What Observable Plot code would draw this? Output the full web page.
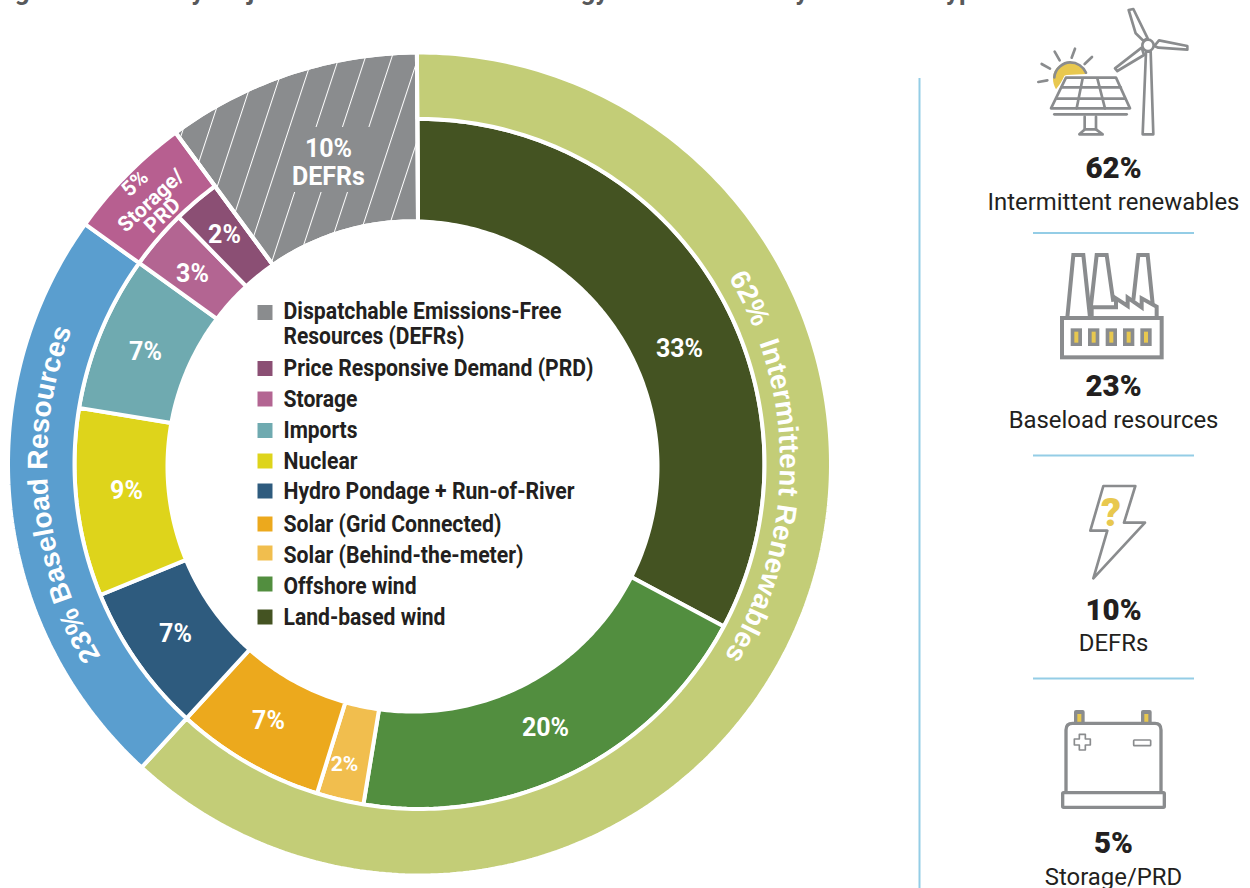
<!DOCTYPE html>
<html><head><meta charset="utf-8">
<script src="https://cdn.jsdelivr.net/npm/d3@7"></script>
<script src="https://cdn.jsdelivr.net/npm/@observablehq/plot@0.6"></script>
<style>html,body{margin:0;padding:0;background:#fff}svg{display:block}</style>
</head><body><div id="chart"></div>
<script>
// ---------- data ----------
const innerNames = ["Land-based wind","Offshore wind","Solar (Behind-the-meter)","Solar (Grid Connected)","Hydro Pondage + Run-of-River","Nuclear","Imports","Storage","Price Responsive Demand (PRD)","Dispatchable Emissions-Free Resources (DEFRs)"];
const innerValues = [32.8,19.8,2.2,7,7,8.8,7.3,2.8,2.2,10.1];
const innerLabels = ["33%","20%","2%","7%","7%","9%","7%","3%","2%","10%"];
const outerNames = ["Intermittent Renewables","Baseload Resources","Storage/PRD"];
const outerValues = [61.8,23.1,5];
const legendLines = [["Dispatchable Emissions-Free",0],["Resources (DEFRs)",0],["Price Responsive Demand (PRD)",1],["Storage",2],["Imports",3],["Nuclear",4],["Hydro Pondage + Run-of-River",5],["Solar (Grid Connected)",6],["Solar (Behind-the-meter)",7],["Offshore wind",8],["Land-based wind",9]];
const panelShares = ["62%","23%","10%","5%"];
const panelNames = ["Intermittent renewables","Baseload resources","DEFRs","Storage/PRD"];
const headline = "Figure 1: Share by Major Sources of All Clean Energy Resource Mix by Resource Type";

// ---------- colours ----------
const innerColors = ["#445322","#528E3F","#F1BE4E","#ECA91D","#2E5B7E","#DED41B","#6FAAB0","#B36592","#8B4F74","#8A8C8E"];
const outerColors = ["#C3CD77","#5A9ECF","#B75F90"];
const gray = "#8A8C8E", yellow = "#E8C84F", rule = "#94CDE6", ink = "#231F20";

// ---------- layout ----------
const W = 1250, H = 888, cx = 419, cy = 463.5;
const rHole = 245, rMid = 345, rOut = 411.5;
const holeDx = -7, holeDy = 2.5; // the hole sits slightly off the rings' centre
const seam = -0.1;               // the 12 o'clock seam sits just left of centre
const angle = p => p / 100 * 2 * Math.PI;
const px = (p, r) => cx + r * Math.sin(angle(p));
const py = (p, r) => cy - r * Math.cos(angle(p));
const holeR = p => rHole + holeDx * Math.sin(angle(p)) - holeDy * Math.cos(angle(p));
function wedge(name, a, b, r0, r1) {
  const n = Math.max(2, Math.ceil((b - a) * 4));
  const out = d3.range(n + 1).map(i => a + (b - a) * i / n);
  const inner = p => r0 === "hole" ? holeR(p) : r0;
  return [...out.map(p => ({name, x: px(p, r1), y: py(p, r1)})),
          ...out.slice().reverse().map(p => ({name, x: px(p, inner(p)), y: py(p, inner(p))}))];
}
const inEdges = d3.cumsum(innerValues);
const outEdges = d3.cumsum(outerValues);
const wedges = [];
innerNames.forEach((nm, i) => {
  const a = i ? inEdges[i-1] : seam, b = i === 9 ? 100 + seam : inEdges[i];
  wedges.push(...wedge(nm, a, b, "hole", i === 9 ? rOut : rMid));
});
outerNames.forEach((nm, i) => {
  const a = i ? outEdges[i-1] : seam;
  wedges.push(...wedge(nm, a, outEdges[i], rMid, rOut));
});
const hatchShape = wedge("hatch", inEdges[8], 100 + seam, "hole", rOut);

const labelAt = [[679,348],[545,727],[344,764],[268,720],[175,633],[126,490],[145,351],[192,273],[224,234],[328,148]];
const labelSize = [25,25,21,25,25,25,25,25,25,25];
const labelRows = innerLabels.map((t,i)=>({t, x: labelAt[i][0], y: labelAt[i][1], s: labelSize[i]}));
const legendY = [311,336,368,399,430,461,491,524,555,585.5,617];
const squareY = [312,null,368,398.5,430,460.5,490.5,523.5,552.5,583.5,616.5];
const legendWidth = [278,181,310,74,74,74,291,218,240,133,162];
const legendOrder = [9,8,7,6,5,4,3,2,1,0];
const legendRows = legendLines.map(([t,k],i)=>({t, name: innerNames[legendOrder[k]], y: legendY[i], sy: squareY[i]}));
const panelRows = [[168,201.5],[386.5,420],[610,643],[843,876.5]];
const dividerY = [232.5,455,678];

// ---------- custom helper marks ----------
function hatchDefs() {
  const g = d3.create("svg:g");
  const p = g.append("defs").append("pattern").attr("id","hatch").attr("patternUnits","userSpaceOnUse")
    .attr("width",25.1).attr("height",25.1).attr("patternTransform","translate(320,191.7) rotate(18.2)");
  p.append("rect").attr("width",1).attr("height",25.1).attr("fill","#fff");
  return g.node();
}
function curved(id, text, a0, a1, r, size, spacing) {
  return (index, {x, y}) => {
    const g = d3.create("svg:g");
    const d = `M${x(px(a0,r))},${y(py(a0,r))}A${r},${r} 0 0 1 ${x(px(a1,r))},${y(py(a1,r))}`;
    g.append("defs").append("path").attr("id",id).attr("d",d);
    g.append("text").attr("text-anchor","start").attr("font-family","'Liberation Sans',Arial,sans-serif").attr("font-weight",700)
      .attr("font-size",size).attr("fill","#fff").attr("letter-spacing",spacing).style("white-space","pre")
      .append("textPath").attr("href","#"+id).text(text);
    return g.node();
  };
}
function icons() {
  const root = d3.create("svg:g").attr("fill","none").attr("stroke",gray).attr("stroke-linejoin","round").attr("stroke-linecap","round");
  const crop = (yo) => root.append("g").attr("transform",`translate(960,${yo}) scale(${1/3})`);
  const path = (g,d,w,extra={}) => { const e = g.append("path").attr("d",d).attr("stroke-width",w); for (const k in extra) e.attr(k,extra[k]); return e; };
  // solar + turbine
  let g = crop(0);
  path(g,"M288,268C265,225 290,189 327,187C350,185 372,200 380,222L320,225Z",0,{fill:yellow,stroke:"none"});
  path(g,"M283,232C285,205 310,187 330,187C352,187 370,200 378,218",8);
  ["M235,246L262,241","M245,192L270,206","M284,155L299,181","M345,146L335,173","M396,171L374,192"].forEach(d=>path(g,d,8));
  path(g,"M318,233L468,233L510,325L273,325Z",14,{stroke:"#fff"});
  path(g,"M318,233L468,233L510,325L273,325Z",8,{fill:"#fff"});
  ["M305,262L482,262","M290,296L495,296","M368,235L350,325","M412,235L435,325","M283,343L500,343"].forEach(d=>path(g,d,8));
  path(g,"M374,350L374,388M408,350L408,388",8);
  path(g,"M358,403L375,388L408,388L428,403Z",8);
  path(g,"M558,155L572,155L580,403L548,403Z",8);
  path(g,"M506,30L520,27L563,115L550,122L527,100Z",8,{fill:"#fff"});
  path(g,"M597,121L682,138L682,149L595,143L583,138Z",8,{fill:"#fff"});
  path(g,"M545,143L465,205L472,213L552,165Z",8,{fill:"#fff"});
  g.append("circle").attr("cx",564).attr("cy",136).attr("r",17).attr("fill","#fff").attr("stroke-width",8);
  // factory
  g = crop(230);
  g.attr("stroke-linejoin","miter").attr("stroke-linecap","butt");
  path(g,"M322,262L340,75L370,75L390,262",12);
  path(g,"M392,235L410,75L440,75L460,215",12);
  path(g,"M520,210L535,75L563,75L578,222",12);
  path(g,"M395,262L395,232L468,232L468,205L503,228L503,203L545,232L545,205L590,230L590,262",12);
  g.append("rect").attr("x",306).attr("y",264).attr("width",299).attr("height",118).attr("fill","#fff").attr("stroke-width",12);
  [332,384,437,489,541].forEach(x=>{
    g.append("rect").attr("x",x).attr("y",295).attr("width",34).attr("height",53).attr("fill",gray).attr("stroke","none");
    g.append("rect").attr("x",x+11).attr("y",305).attr("width",12).attr("height",33).attr("fill",yellow).attr("stroke","none");
  });
  // bolt
  g = crop(460);
  path(g,"M430,78L526,78L492,188L555,188L400,355L442,212L391,212Z",8);
  g.append("text").attr("x",453).attr("y",197).attr("text-anchor","middle").attr("font-family","Roboto,sans-serif").attr("font-weight",900)
    .attr("font-size",118).attr("fill",yellow).attr("stroke","none").text("?");
  // battery
  g = crop(680);
  [342,543].forEach(x=>{
    g.append("rect").attr("x",x).attr("y",90).attr("width",32).attr("height",40).attr("rx",6).attr("fill",gray).attr("stroke","none");
    g.append("rect").attr("x",x+10).attr("y",102).attr("width",12).attr("height",24).attr("fill",yellow).attr("stroke","none");
  });
  path(g,"M318,335L318,150Q318,130 338,130L585,130Q603,130 603,150L603,335",10);
  g.append("rect").attr("x",308).attr("y",338).attr("width",305).attr("height",44).attr("rx",3).attr("fill","#fff").attr("stroke-width",10);
  path(g,"M358,163h18v14h15v18h-15v15h-18v-15h-15v-18h15z",5);
  g.append("rect").attr("x",521).attr("y",180).attr("width",51).attr("height",17).attr("rx",2).attr("stroke-width",5);
  return root.node();
}

// ---------- plot ----------
const fontBody = "Roboto, sans-serif";
const plot = Plot.plot({
  width: W, height: H, margin: 0,
  x: {domain: [0, W], range: [0, W], axis: null},
  y: {domain: [0, H], range: [0, H], axis: null},
  color: {type: "ordinal", domain: [...innerNames, ...outerNames], range: [...innerColors, ...outerColors]},
  style: {background: "#fff", fontFamily: fontBody},
  marks: [
    hatchDefs,
    Plot.text([headline], {x: () => -7, y: () => -1, text: d => d, textAnchor: "start", lineAnchor: "bottom", fontSize: 26, fontWeight: 700, fill: "#58595B"}),
    Plot.line(wedges, {x: "x", y: "y", z: "name", fill: "name", stroke: "#fff", strokeWidth: 4, curve: "linear-closed", strokeLinejoin: "miter"}),
    Plot.line(hatchShape, {x: "x", y: "y", fill: "url(#hatch)", stroke: "none", curve: "linear-closed"}),
    Plot.line(hatchShape, {x: "x", y: "y", stroke: "#fff", strokeWidth: 4, fill: "none", curve: "linear-closed", strokeLinejoin: "miter"}),
    Plot.rect([0], {x1: () => 290, x2: () => 370, y1: () => 127, y2: () => 192, fill: gray}),
    Plot.text(labelRows, {x: "x", y: "y", text: "t", fontSize: "s", fontWeight: 700, fill: "#fff"}),
    Plot.text(["DEFRs"], {x: () => 328, y: () => 176, text: d => d, fontSize: 25, fontWeight: 700, fill: "#fff"}),
    Plot.text(["5%"], {x: () => 134.5, y: () => 183, text: d => d, fontSize: 21, fontWeight: 700, fill: "#fff", rotate: -43}),
    Plot.text(["Storage/"], {x: () => 150.5, y: () => 200, text: d => d, fontSize: 21, fontWeight: 700, fill: "#fff", rotate: -43}),
    Plot.text(["PRD"], {x: () => 162, y: () => 215, text: d => d, fontSize: 21, fontWeight: 700, fill: "#fff", rotate: -43}),
    curved("arcIR","62%  Intermittent Renewables",59/3.6,150/3.6,361,28,0.1),
    curved("arcBR","23% Baseload Resources",238.8/3.6,320/3.6,372,28,0),
    Plot.dot(legendRows.filter(d => d.sy != null), {x: () => 264.5, y: "sy", r: 8.46, symbol: "square", fill: "name", stroke: "none"}),
    Plot.text(legendRows, {x: () => 283, y: "y", text: "t", textAnchor: "start", fontSize: 24, fontWeight: 700, fill: ink}),
    Plot.ruleX([0], {x: () => 919, y1: () => 78, y2: () => H, stroke: rule, strokeWidth: 2}),
    Plot.ruleY(dividerY, {y: d => d, x1: () => 1033, x2: () => 1194, stroke: rule, strokeWidth: 2}),
    icons,
    Plot.text(panelShares, {x: () => 1113, y: (d,i) => panelRows[i][0], text: d => d, fontSize: 29.5, fontWeight: 900, fill: ink}),
    Plot.text(panelNames, {x: () => 1113, y: (d,i) => panelRows[i][1], text: d => d, fontSize: 23.9, fontWeight: 400, fill: ink})
  ]
});
// Condensed legend type: Roboto squeezed to the reference widths.
const legendFit = new Map(legendLines.map(([t], i) => [t, legendWidth[i]]));
d3.select(plot).selectAll("text").each(function () {
  const w = legendFit.get(this.textContent);
  if (w) { this.setAttribute("textLength", w); this.setAttribute("lengthAdjust", "spacingAndGlyphs"); }
});
document.getElementById("chart").append(plot);
</script></body></html>
